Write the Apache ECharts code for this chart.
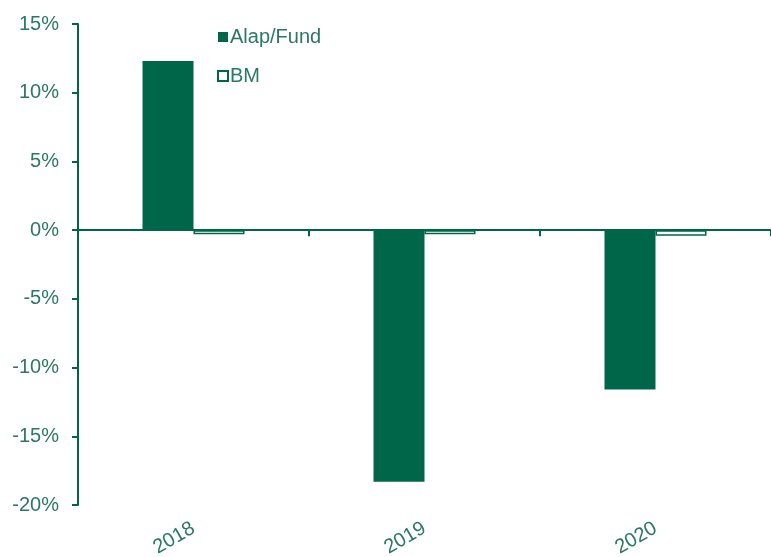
<!DOCTYPE html>
<html>
<head>
<meta charset="utf-8">
<script src="https://cdn.jsdelivr.net/npm/echarts@6/dist/echarts.min.js"></script>
<style>
  html, body { margin: 0; padding: 0; background: #fff; }
  #chart { width: 771px; height: 557px; }
</style>
</head>
<body>
<div id="chart"></div>
<script>
var years = ['2018', '2019', '2020'];
var fundValues = [12.3, -18.3, -11.6];
var bmValues = [-0.3, -0.3, -0.4];
var yTicks = [-20, -15, -10, -5, 0, 5, 10, 15];

var green = '#00664A';
var textGreen = '#2B7A5E';

var chart = echarts.init(document.getElementById('chart'));

var option = {
    animation: false,
    textStyle: { fontFamily: 'Liberation Sans, Arial, sans-serif' },
    grid: { left: 78, right: 0, top: 24, bottom: 52, outerBoundsMode: 'none', containLabel: false },
    legend: {
        orient: 'vertical',
        left: 212,
        top: 22,
        itemWidth: 10,
        itemHeight: 10,
        itemGap: 19,
        icon: 'rect',
        textStyle: { color: textGreen, fontSize: 20, padding: [0, 0, 0, -3] },
        data: [
            { name: 'Alap/Fund', itemStyle: { color: green, borderColor: green, borderWidth: 0 } },
            { name: 'BM', itemStyle: { color: '#fff', borderColor: green, borderWidth: 2 } }
        ]
    },
    xAxis: [
        {
            type: 'category',
            data: years,
            axisLine: { onZero: true, lineStyle: { color: green, width: 2 } },
            axisTick: { show: true, length: 6, lineStyle: { color: green, width: 2 } },
            axisLabel: { show: false }
        },
        {
            type: 'category',
            data: years,
            position: 'bottom',
            axisLine: { show: false, onZero: false },
            axisTick: { show: false },
            axisLabel: { rotate: 30, margin: 22, color: textGreen, fontSize: 20 }
        }
    ],
    yAxis: {
        type: 'value',
        min: yTicks[0],
        max: yTicks[yTicks.length - 1],
        interval: 5,
        splitLine: { show: false },
        axisLine: { show: true, lineStyle: { color: green, width: 2 } },
        axisTick: { show: true, length: 6, lineStyle: { color: green, width: 2 } },
        axisLabel: {
            color: textGreen,
            fontSize: 20,
            margin: 19,
            formatter: function (v) { return v + '%'; }
        }
    },
    series: [
        {
            name: 'Alap/Fund',
            type: 'bar',
            data: fundValues,
            barWidth: 51,
            barGap: '0%',
            itemStyle: { color: green }
        },
        {
            name: 'BM',
            type: 'bar',
            data: bmValues,
            barWidth: 51,
            itemStyle: { color: '#fff', borderColor: green, borderWidth: 1.5 }
        }
    ]
};

chart.setOption(option);
</script>
</body>
</html>
